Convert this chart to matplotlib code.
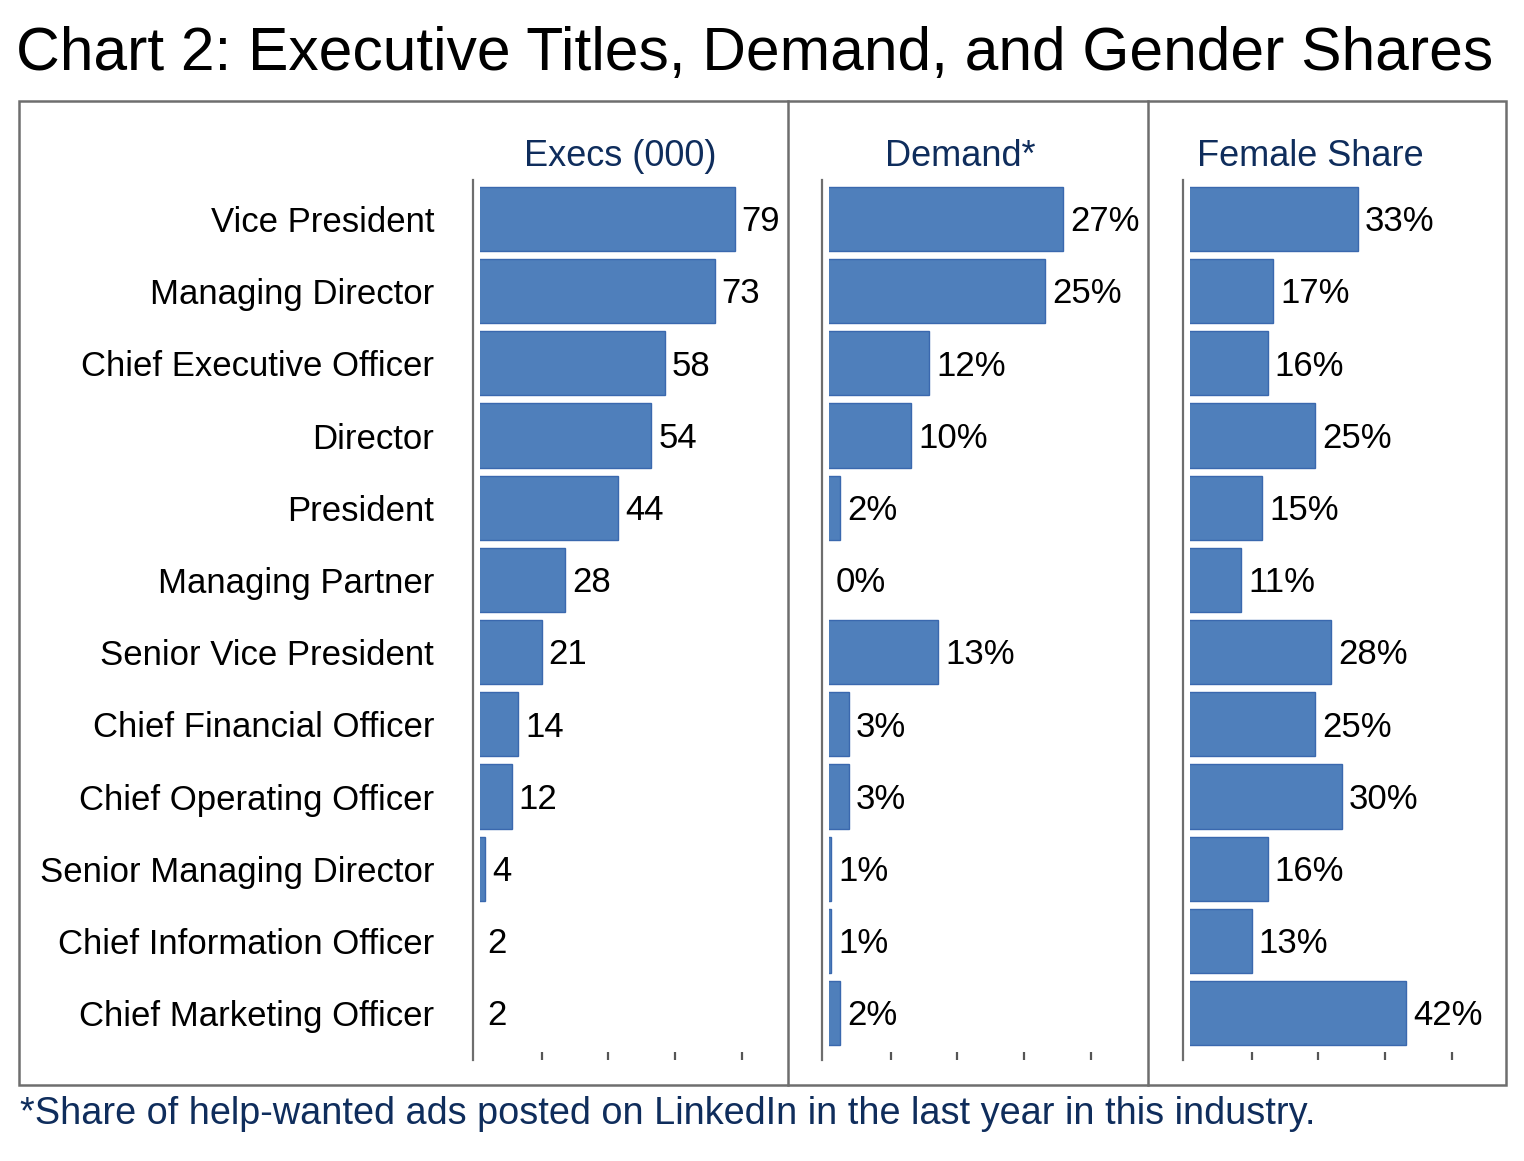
import numpy as np
import matplotlib.pyplot as plt
from matplotlib.patches import Rectangle
from matplotlib.lines import Line2D

plt.rcParams['font.family'] = ['Liberation Sans', 'DejaVu Sans']

titles = ['Vice President', 'Managing Director', 'Chief Executive Officer',
          'Director', 'President', 'Managing Partner', 'Senior Vice President',
          'Chief Financial Officer', 'Chief Operating Officer',
          'Senior Managing Director', 'Chief Information Officer',
          'Chief Marketing Officer']
execs = [79, 73, 58, 54, 44, 28, 21, 14, 12, 4, 2, 2]
demand = [27, 25, 12, 10, 2, 0, 13, 3, 3, 1, 1, 2]
female = [33, 17, 16, 25, 15, 11, 28, 25, 30, 16, 13, 42]

headers = ['Execs (000)', 'Demand*', 'Female Share']
label_fmt = ['{:d}', '{:d}%', '{:d}%']

W, H = 1524, 1161
fig = plt.figure(figsize=(W / 100, H / 100), dpi=100)

bar_col = '#4f7fbb'
edge_col = '#3a68ae'
navy = '#0f2d5c'
gray = '#6e6e6e'

# panel geometry in pixels: (left, right, x-axis start, px per unit, header centre)
panels = [(480, 780, 2.5, 3.33, 620), (829, 1140, 0.77, 8.92, 960),
          (1190, 1500, 1.41, 5.32, 1310)]
series = [execs, demand, female]
top_px, bot_px = 180, 1060
rows = np.arange(len(titles))

for i, ((l, r, x0, s, hx), vals) in enumerate(zip(panels, series)):
    ax = fig.add_axes([l / W, 1 - bot_px / H, (r - l) / W, (bot_px - top_px) / H])
    ax.barh(rows, vals, height=0.89, color=bar_col, edgecolor=edge_col, linewidth=1.0)
    ax.set_xlim(x0, x0 + (r - l) / s)
    ax.set_ylim(11.65, -0.54)
    for sp in ['top', 'right', 'bottom']:
        ax.spines[sp].set_visible(False)
    ax.spines['left'].set_position(('outward', 5))
    ax.spines['left'].set_color(gray)
    ax.spines['left'].set_linewidth(1.6)
    ticks = x0 + (np.arange(1, 5) * 66.7 - 5) / s
    ax.set_xticks(ticks)
    ax.set_xticklabels([])
    ax.tick_params(axis='x', direction='in', length=6, width=1.6, color='#555555')
    if i == 0:
        ax.set_yticks(rows)
        ax.set_yticklabels(titles, fontsize=25)
        ax.tick_params(axis='y', length=0, pad=28)
    else:
        ax.set_yticks([])
    for y, v in zip(rows, vals):
        ax.annotate(label_fmt[i].format(v), (max(v, x0), y), xytext=(5, -2),
                    textcoords='offset points', va='center', ha='left',
                    fontsize=25, color='black')
    fig.text(hx / W, 1 - 157 / H, headers[i], ha='center', va='center',
             fontsize=26, color=navy)

# outer frame and dividers
fig.add_artist(Rectangle((19 / W, 1 - 1085 / H), (1506 - 19) / W, (1085 - 101) / H,
                         transform=fig.transFigure, fill=False, edgecolor=gray, linewidth=1.8))
for xd in [788, 1148]:
    fig.add_artist(Line2D([xd / W, xd / W], [1 - 1085 / H, 1 - 101 / H],
                          transform=fig.transFigure, color=gray, linewidth=1.8))

fig.text(16 / W, 1 - 55 / H, 'Chart 2: Executive Titles, Demand, and Gender Shares',
         fontsize=43.6, va='center', ha='left', color='black')
fig.text(20 / W, 1 - 1114 / H,
         '*Share of help-wanted ads posted on LinkedIn in the last year in this industry.',
         fontsize=27.3, va='center', ha='left', color=navy)

fig.savefig('out.png', dpi=100)
